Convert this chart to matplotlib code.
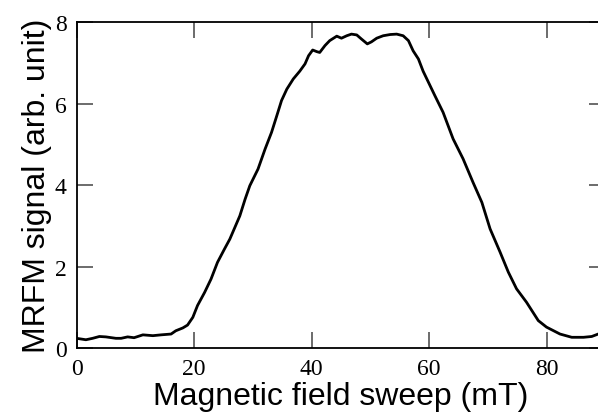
import matplotlib
matplotlib.use("Agg")
import matplotlib.pyplot as plt
import numpy as np

field_mT = [0.0, 1.6, 2.75, 3.9, 5.0, 6.7, 7.6, 8.7, 9.8, 11.3, 13.0, 14.4, 16.1, 16.9,
            18.1, 18.9, 19.8, 20.6, 21.8, 22.9, 24.0, 25.2, 26.1, 27.8, 28.7, 29.5, 30.9,
            32.1, 33.2, 34.1, 34.9, 35.8, 36.9, 38.0, 38.9, 39.5, 40.2, 40.9, 41.4, 42.3,
            43.1, 44.3, 45.1, 46.0, 46.8, 47.7, 48.5, 49.5, 50.2, 51.1, 52.2, 53.4, 54.5,
            55.6, 56.5, 57.3, 58.2, 59.0, 59.9, 61.0, 62.4, 64.1, 65.8, 67.5, 69.0, 70.4,
            72.1, 73.5, 74.9, 76.6, 78.6, 80.0, 82.3, 84.3, 86.3, 87.7, 88.8]
signal = [0.245, 0.21, 0.245, 0.29, 0.28, 0.245, 0.245, 0.28, 0.26, 0.33, 0.31, 0.33, 0.35, 0.43,
          0.50, 0.57, 0.76, 1.05, 1.37, 1.70, 2.11, 2.44, 2.68, 3.25, 3.66, 3.99, 4.40,
          4.89, 5.30, 5.71, 6.08, 6.36, 6.61, 6.80, 6.98, 7.18, 7.32, 7.28, 7.26, 7.43,
          7.55, 7.66, 7.61, 7.67, 7.71, 7.69, 7.59, 7.47, 7.52, 7.61, 7.67, 7.70, 7.71,
          7.67, 7.55, 7.30, 7.10, 6.80, 6.53, 6.20, 5.79, 5.14, 4.65, 4.07, 3.58, 2.93,
          2.36, 1.87, 1.46, 1.13, 0.68, 0.52, 0.35, 0.27, 0.27, 0.29, 0.35]

x_ticks = [0, 20, 40, 60, 80]
y_ticks = [0, 2, 4, 6, 8]

fig = plt.figure(figsize=(5.98, 4.14), dpi=100)
ax = fig.add_axes([76.5 / 598, 64.7 / 414, 528.75 / 598, 326.0 / 414])
ax.plot(field_mT, signal, color="black", lw=2.0, solid_joinstyle="round")
ax.set_xlim(0, 90)
ax.set_ylim(0, 8)
ax.set_xticks(x_ticks)
ax.set_yticks(y_ticks)
ax.tick_params(direction="in", length=11.5, width=1.1, color="#444444",
               top=True, right=True, labelsize=17, pad=7)
for lab in ax.get_xticklabels() + ax.get_yticklabels():
    lab.set_family("Liberation Serif")
for s in ax.spines.values():
    s.set_linewidth(1.3)
ax.set_xlabel("Magnetic field sweep (mT)", family="Liberation Sans", fontsize=23, labelpad=1.5)
ax.set_ylabel("MRFM signal (arb. unit)", family="Liberation Sans", fontsize=23, labelpad=2)
fig.savefig("out.png", dpi=100)
